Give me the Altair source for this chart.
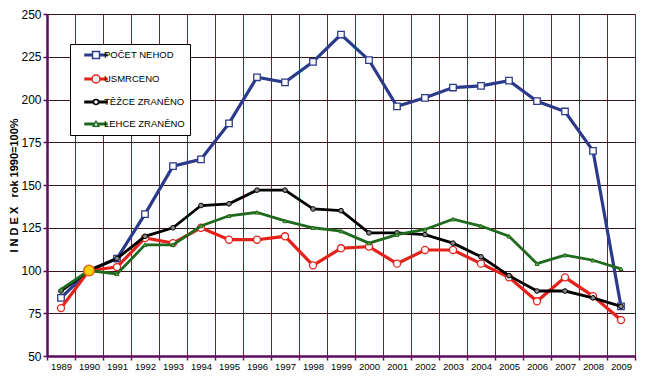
import altair as alt
import pandas as pd

years = list(range(1989, 2010))
series = ["POČET NEHOD", "USMRCENO", "TĚŽCE ZRANĚNO", "LEHCE ZRANĚNO"]
pocet_nehod = [84, 100, 107, 133, 161, 165, 186, 213, 210, 222, 238, 223, 196, 201, 207, 208, 211, 199, 193, 170, 79]
usmrceno = [78, 100, 102, 119, 116, 125, 118, 118, 120, 103, 113, 114, 104, 112, 112, 104, 96, 82, 96, 85, 71]
tezce_zraneno = [88, 100, 107, 120, 125, 138, 139, 147, 147, 136, 135, 122, 122, 121, 116, 108, 97, 88, 88, 84, 79]
lehce_zraneno = [89, 100, 98, 115, 115, 126, 132, 134, 129, 125, 123, 116, 121, 124, 130, 126, 120, 104, 109, 106, 101]
base_year = [1990]
base_value = [100]
y_ticks = [50, 75, 100, 125, 150, 175, 200, 225, 250]

colors = ["#2B3A8A", "#E4221B", "#000000", "#1F6A1F"]
values = [pocet_nehod, usmrceno, tezce_zraneno, lehce_zraneno]

rows = []
for s, vals in zip(series, values):
    for yr, v in zip(years, vals):
        rows.append({"series": s, "year": yr, "value": v})
df = pd.DataFrame(rows)
base_df = pd.DataFrame({"year": base_year, "value": base_value})

PURPLE = "#5E0A5E"
FONT = "Liberation Sans"

x_vals = [years[0] - 0.5 + 0.5 * i for i in range(2 * len(years) + 1)]
x_axis = alt.Axis(
    values=x_vals,
    title=None,
    grid=True,
    gridColor="#7A1A2E",
    gridWidth=1,
    gridOpacity={"condition": {"test": "datum.value % 1 !== 0", "value": 1}, "value": 0},
    ticks=True,
    tickColor=PURPLE,
    tickSize=4,
    tickWidth=1.5,
    tickOpacity={"condition": {"test": "datum.value % 1 !== 0", "value": 1}, "value": 0},
    labelExpr="datum.value % 1 === 0 ? toString(datum.value) : ''",
    labelOverlap=False,
    labelFlush=False,
    labelFont=FONT,
    labelFontSize=9.5,
    labelColor="black",
    labelPadding=1,
    domainColor=PURPLE,
    domainWidth=2.5,
)
y_axis = alt.Axis(
    values=y_ticks,
    title="I N D E X\u00a0\u00a0 rok 1990=100%",
    titleFont=FONT,
    titleFontSize=11,
    titleFontWeight="bold",
    titleColor="black",
    titlePadding=1,
    grid=True,
    gridColor="#3A1418",
    gridWidth=1,
    tickColor=PURPLE,
    tickSize=4,
    tickWidth=1.5,
    labelFont=FONT,
    labelFontSize=12,
    labelColor="black",
    labelPadding=2,
    domainColor=PURPLE,
    domainWidth=2.5,
)

x_enc = alt.X("year:Q", scale=alt.Scale(domain=[years[0] - 0.5, years[-1] + 0.5], nice=False, zero=False), axis=x_axis)
y_enc = alt.Y("value:Q", scale=alt.Scale(domain=[y_ticks[0], y_ticks[-1]], nice=False, zero=False), axis=y_axis)

marker_styles = [
    dict(shape="square", size=42, fill="white", strokeWidth=1.3),
    dict(shape="circle", size=50, fill="white", strokeWidth=1.3),
    dict(shape="circle", size=22, fill="#8A8A8A", strokeWidth=1),
    dict(shape="triangle-up", size=16, fill="#7FB24A", strokeWidth=1),
]
line_widths = [3.2, 3.2, 2.8, 2.8]

layers = []
for s, c, ms, lw in zip(series, colors, marker_styles, line_widths):
    base = alt.Chart(df).transform_filter(alt.datum.series == s)
    layers.append(base.mark_line(color=c, strokeWidth=lw).encode(x=x_enc, y=y_enc))
    layers.append(
        base.mark_point(
            shape=ms["shape"], size=ms["size"], filled=True, fill=ms["fill"],
            stroke=c, strokeWidth=ms["strokeWidth"], opacity=1,
        ).encode(x=x_enc, y=y_enc)
    )

# 1990 base point
layers.append(
    alt.Chart(base_df).mark_point(
        shape="circle", size=110, filled=True, fill="#F6D200", stroke="#E0661A",
        strokeWidth=1.5, opacity=1,
    ).encode(x=x_enc, y=y_enc)
)

# legend symbols: line + marker
legend_paths = [
    "M0.8,-0.15H2.3V0.15H0.8Z M3.7,-0.15H5.2V0.15H3.7Z M2.3,-0.7H3.7V0.7H2.3Z",
    "M0.8,-0.15H2.2V0.15H0.8Z M3.8,-0.15H5.2V0.15H3.8Z M3.8,0A0.8,0.8,0,1,1,2.2,0A0.8,0.8,0,1,1,3.8,0Z",
    "M0.8,-0.15H2.5V0.15H0.8Z M3.5,-0.15H5.2V0.15H3.5Z M3.5,0A0.5,0.5,0,1,1,2.5,0A0.5,0.5,0,1,1,3.5,0Z",
    "M0.8,-0.15H2.5V0.15H0.8Z M3.5,-0.15H5.2V0.15H3.5Z M3,-0.55L3.55,0.45H2.45Z",
]
leg = alt.Legend(
    title=None,
    orient="none",
    legendX=23,
    legendY=30,
    fillColor="white",
    strokeColor="black",
    padding=5,
    labelFont=FONT,
    labelFontSize=9.5,
    labelColor="black",
    labelOffset=17,
    labelExpr="datum.label + '\u00a0\u00a0\u00a0\u00a0'",
    symbolSize=100,
    symbolStrokeWidth=1.5,
    rowPadding=10,
)
layers.append(
    alt.Chart(df).transform_filter("false").mark_point(filled=False, opacity=1, strokeWidth=1.5).encode(
        color=alt.Color("series:N", scale=alt.Scale(domain=series, range=colors), legend=leg),
        shape=alt.Shape("series:N", scale=alt.Scale(domain=series, range=legend_paths), legend=leg),
    )
)

chart = (
    alt.layer(*layers)
    .properties(
        width=588,
        height=342,
        autosize=alt.AutoSizeParams(type="none"),
        padding={"left": 39, "top": 6, "right": 2, "bottom": 14},
        background="white",
    )
    .configure_view(fill="#F9B994", stroke="#8C8C8C", strokeWidth=1)
)

chart.save("out.html", embed_options={"renderer": "svg", "actions": False})
